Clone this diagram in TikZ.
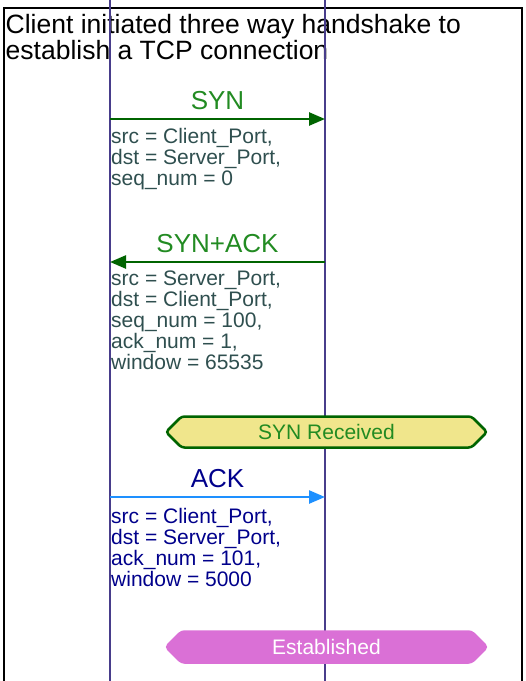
\documentclass[tikz,border=0pt]{standalone}
\usepackage{fontspec}
\setmainfont{Liberation Sans}
\usetikzlibrary{arrows.meta,shapes.symbols}
\definecolor{lifeline}{HTML}{483D8B}
\definecolor{synline}{HTML}{006400}
\definecolor{syntext}{HTML}{228B22}
\definecolor{paramtext}{HTML}{2F4F4F}
\definecolor{ackline}{HTML}{1E90FF}
\definecolor{acktext}{HTML}{00008B}
\definecolor{statefill}{HTML}{F0E68C}
\definecolor{estfill}{HTML}{DA70D6}
\tikzstyle{msg}=[line width=2.5pt,-{Triangle[length=16pt,width=13pt]}]
\tikzstyle{msglabel}=[font=\fontsize{26}{26}\selectfont,inner sep=0pt,anchor=base,yshift=10pt]
\tikzstyle{params}=[font=\fontsize{21}{21}\selectfont,inner sep=0pt,anchor=north west,align=left]
\tikzstyle{state}=[signal,signal to=west and east,signal pointer angle=90,minimum width=321pt,minimum height=31pt,inner sep=0pt,line width=2.5pt,rounded corners=3pt,font=\fontsize{21}{21}\selectfont]

\begin{document}
\begin{tikzpicture}[x=1pt,y=-1pt]
\useasboundingbox (0,0) rectangle (526,681);
% frame and title
\draw[line width=2pt] (4,681) -- (4,8) -- (522,8) -- (522,681);
\node[anchor=north west, align=left, inner sep=0pt, font=\fontsize{26.5}{26}\selectfont] (title) at (5.5,14.5) {Client initiated three way handshake to\\establish a TCP connection};
% lifelines
\coordinate (clienttop) at (110,0);
\coordinate (clientbot) at (110,681);
\coordinate (servertop) at (325,0);
\coordinate (serverbot) at (325,681);
\draw[lifeline, line width=2pt] (clienttop) -- (clientbot);
\draw[lifeline, line width=2pt] (servertop) -- (serverbot);
% SYN
\coordinate (c1) at (110,119);
\coordinate (s1) at (325,119);
\draw[msg, synline] (c1) -- node[msglabel, syntext] {SYN} (s1);
\node[params, paramtext] (synparams) at (111,128) {src = Client\_Port,\\dst = Server\_Port,\\seq\_num = 0};
% SYN+ACK
\coordinate (c2) at (110,262);
\coordinate (s2) at (325,262);
\draw[msg, synline] (s2) -- node[msglabel, syntext] {SYN+ACK} (c2);
\node[params, paramtext] (synackparams) at (111,271) {src = Server\_Port,\\dst = Client\_Port,\\seq\_num = 100,\\ack\_num = 1,\\window = 65535};
\node[state, draw=synline, fill=statefill, text=syntext] (synrcvd) at (326.5,432) {SYN Received};
% ACK
\coordinate (c3) at (110,497);
\coordinate (s3) at (325,497);
\draw[msg, ackline] (c3) -- node[msglabel, acktext] {ACK} (s3);
\node[params, acktext] (ackparams) at (111,508) {src = Client\_Port,\\dst = Server\_Port,\\ack\_num = 101,\\window = 5000};
\node[state, draw=estfill, fill=estfill, text=white] (established) at (326.5,647) {Established};
\end{tikzpicture}
\end{document}
